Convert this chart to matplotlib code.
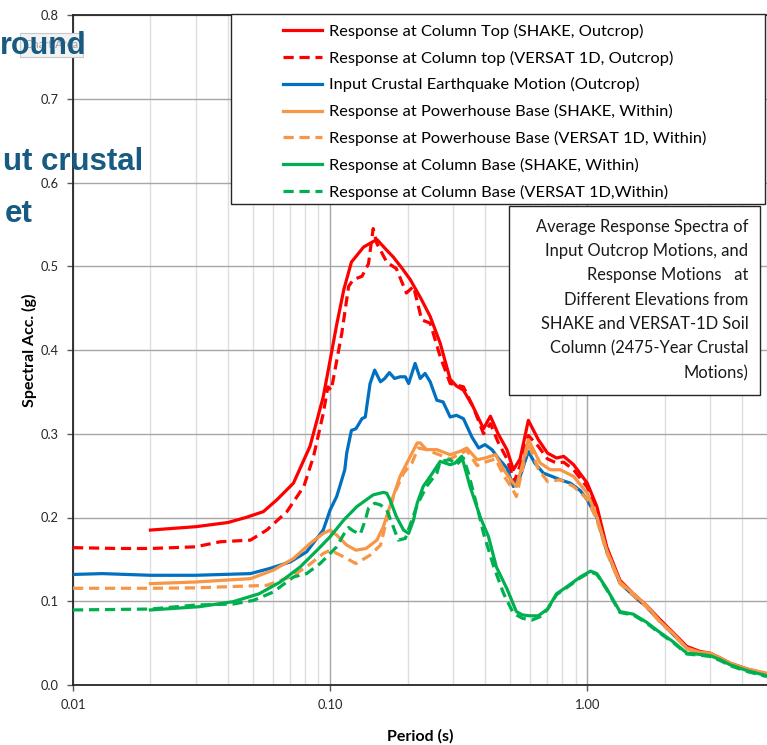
import matplotlib
matplotlib.use("Agg")
import matplotlib.pyplot as plt
from matplotlib.patches import Rectangle
from matplotlib.ticker import FixedLocator, FixedFormatter, LogLocator, NullFormatter

plt.rcParams['font.family'] = ['Lato', 'DejaVu Sans']

# 反应谱数据：周期 (s) 与谱加速度 (g)
T_top_shake = [0.02, 0.03, 0.04, 0.047, 0.055, 0.062, 0.072, 0.0835, 0.094, 0.1, 0.106, 0.113, 0.121,
               0.135, 0.152, 0.165, 0.176, 0.19, 0.205, 0.225, 0.245, 0.268, 0.293, 0.31, 0.33, 0.36,
               0.395, 0.42, 0.45, 0.487, 0.516, 0.548, 0.59, 0.645, 0.70, 0.76, 0.81, 0.885, 1.0, 1.09,
               1.19, 1.34, 1.51, 1.7, 1.92, 2.15, 2.44, 2.75, 3.01, 3.3, 3.6, 4.2, 5.0]
Sa_top_shake = [0.185, 0.189, 0.194, 0.200, 0.207, 0.221, 0.241, 0.285, 0.344, 0.388, 0.43, 0.472, 0.505,
                0.523, 0.532, 0.52, 0.511, 0.498, 0.484, 0.462, 0.44, 0.408, 0.365, 0.357, 0.352, 0.332,
                0.306, 0.321, 0.3, 0.281, 0.257, 0.27, 0.316, 0.293, 0.277, 0.271, 0.273, 0.263, 0.241, 0.213,
                0.165, 0.125, 0.109, 0.095, 0.078, 0.063, 0.046, 0.04, 0.038, 0.032, 0.026, 0.019, 0.013]

T_top_versat = [0.01, 0.015, 0.02, 0.03, 0.0373, 0.049, 0.0567, 0.0679, 0.079, 0.0862, 0.094, 0.098, 0.101,
                0.111, 0.118, 0.123, 0.133, 0.141, 0.147, 0.152, 0.166, 0.181, 0.198, 0.211, 0.227, 0.245,
                0.268, 0.293, 0.33, 0.36, 0.395, 0.42, 0.45, 0.487, 0.52, 0.548, 0.59, 0.645, 0.70, 0.76,
                0.81, 0.885, 1.0, 1.09, 1.19, 1.34, 1.51, 1.7, 1.92, 2.15, 2.44, 2.75, 3.01, 3.3, 3.6, 4.2, 5.0]
Sa_top_versat = [0.164, 0.163, 0.163, 0.165, 0.171, 0.173, 0.185, 0.207, 0.237, 0.273, 0.324, 0.356, 0.352,
                 0.42, 0.476, 0.484, 0.488, 0.503, 0.545, 0.527, 0.505, 0.497, 0.468, 0.476, 0.436, 0.432,
                 0.392, 0.36, 0.356, 0.332, 0.3, 0.312, 0.29, 0.27, 0.243, 0.262, 0.298, 0.285, 0.27, 0.265,
                 0.266, 0.257, 0.236, 0.21, 0.163, 0.123, 0.107, 0.093, 0.077, 0.062, 0.045, 0.039, 0.037,
                 0.031, 0.025, 0.018, 0.012]

T_input = [0.01, 0.013, 0.02, 0.03, 0.049, 0.058, 0.07, 0.081, 0.094, 0.1, 0.106, 0.109, 0.114, 0.116, 0.121,
           0.126, 0.133, 0.137, 0.143, 0.149, 0.157, 0.163, 0.17, 0.178, 0.187, 0.196, 0.202, 0.214, 0.224,
           0.234, 0.245, 0.26, 0.275, 0.293, 0.31, 0.33, 0.356, 0.378, 0.4, 0.426, 0.45, 0.487, 0.516, 0.548,
           0.59, 0.625, 0.675, 0.73, 0.785, 0.86, 0.94, 1.0, 1.09, 1.19, 1.34, 1.51, 1.7, 1.92, 2.15, 2.44,
           2.75, 3.01, 3.3, 3.6, 4.2, 5.0]
Sa_input = [0.132, 0.133, 0.131, 0.131, 0.133, 0.139, 0.147, 0.159, 0.185, 0.209, 0.225, 0.237, 0.257, 0.277,
            0.304, 0.306, 0.318, 0.32, 0.36, 0.376, 0.362, 0.366, 0.373, 0.366, 0.368, 0.368, 0.36, 0.384, 0.366,
            0.372, 0.362, 0.34, 0.338, 0.32, 0.322, 0.318, 0.296, 0.283, 0.287, 0.281, 0.271, 0.259, 0.237, 0.249,
            0.279, 0.265, 0.253, 0.249, 0.245, 0.241, 0.232, 0.221, 0.2, 0.16, 0.122, 0.107, 0.094, 0.076, 0.061,
            0.044, 0.038, 0.036, 0.031, 0.025, 0.018, 0.012]

T_ph_shake = [0.02, 0.03, 0.049, 0.06, 0.072, 0.0836, 0.094, 0.1, 0.106, 0.116, 0.126, 0.138, 0.152, 0.161,
              0.174, 0.187, 0.205, 0.218, 0.224, 0.237, 0.26, 0.293, 0.32, 0.34, 0.373, 0.4, 0.44, 0.473,
              0.51, 0.53, 0.557, 0.59, 0.656, 0.718, 0.785, 0.885, 1.0, 1.09, 1.19, 1.34, 1.51, 1.7, 1.92,
              2.15, 2.44, 2.75, 3.01, 3.3, 3.6, 4.2, 5.0]
Sa_ph_shake = [0.121, 0.123, 0.127, 0.137, 0.151, 0.169, 0.181, 0.185, 0.179, 0.167, 0.161, 0.163, 0.173,
               0.189, 0.221, 0.249, 0.273, 0.289, 0.289, 0.281, 0.281, 0.275, 0.279, 0.283, 0.269, 0.271,
               0.275, 0.257, 0.243, 0.237, 0.261, 0.293, 0.265, 0.257, 0.257, 0.249, 0.229, 0.201, 0.161,
               0.123, 0.109, 0.095, 0.076, 0.062, 0.044, 0.039, 0.038, 0.032, 0.026, 0.019, 0.014]

T_ph_versat = [0.01, 0.02, 0.03, 0.0567, 0.07, 0.081, 0.094, 0.1, 0.113, 0.126, 0.143, 0.157, 0.166, 0.178,
               0.193, 0.208, 0.22, 0.237, 0.26, 0.293, 0.32, 0.34, 0.373, 0.4, 0.44, 0.473, 0.51, 0.53, 0.557,
               0.59, 0.645, 0.7, 0.785, 0.885, 1.0, 1.09, 1.19, 1.34, 1.51, 1.7, 1.92, 2.15, 2.44, 2.75, 3.01,
               3.3, 3.6, 4.2, 5.0]
Sa_ph_versat = [0.1155, 0.1155, 0.116, 0.119, 0.129, 0.141, 0.157, 0.161, 0.153, 0.145, 0.155, 0.167, 0.197,
                0.229, 0.253, 0.265, 0.283, 0.281, 0.276, 0.27, 0.276, 0.28, 0.262, 0.266, 0.27, 0.25, 0.235,
                0.225, 0.255, 0.289, 0.258, 0.243, 0.245, 0.237, 0.222, 0.197, 0.158, 0.121, 0.107, 0.093,
                0.075, 0.061, 0.043, 0.038, 0.037, 0.031, 0.025, 0.018, 0.013]

T_base_shake = [0.02, 0.031, 0.042, 0.053, 0.064, 0.0765, 0.089, 0.1, 0.113, 0.127, 0.147, 0.161, 0.166, 0.171,
                0.181, 0.193, 0.202, 0.211, 0.218, 0.23, 0.245, 0.268, 0.293, 0.306, 0.325, 0.35, 0.384, 0.413,
                0.443, 0.487, 0.53, 0.56, 0.6, 0.645, 0.7, 0.76, 0.83, 0.94, 1.03, 1.09, 1.19, 1.34, 1.51, 1.7,
                1.86, 2.15, 2.44, 2.75, 3.01, 3.3, 3.6, 4.2, 5.0]
Sa_base_shake = [0.0896, 0.0935, 0.0995, 0.109, 0.123, 0.141, 0.161, 0.177, 0.197, 0.213, 0.227, 0.23, 0.229,
                 0.221, 0.201, 0.185, 0.181, 0.197, 0.217, 0.237, 0.249, 0.267, 0.263, 0.265, 0.273, 0.237, 0.2,
                 0.177, 0.141, 0.115, 0.0876, 0.0836, 0.0826, 0.0826, 0.0906, 0.109, 0.117, 0.129, 0.136, 0.133,
                 0.115, 0.0876, 0.0846, 0.075, 0.0657, 0.052, 0.038, 0.0365, 0.035, 0.03, 0.024, 0.017, 0.011]

T_base_versat = [0.01, 0.02, 0.03, 0.042, 0.0503, 0.0601, 0.072, 0.081, 0.0914, 0.1, 0.106, 0.113, 0.118, 0.123,
                 0.131, 0.137, 0.141, 0.149, 0.157, 0.166, 0.176, 0.184, 0.196, 0.208, 0.218, 0.237, 0.26, 0.268,
                 0.293, 0.31, 0.33, 0.345, 0.373, 0.395, 0.433, 0.473, 0.516, 0.56, 0.61, 0.656, 0.7, 0.76, 0.83,
                 0.94, 1.03, 1.09, 1.19, 1.34, 1.51, 1.7, 1.86, 2.15, 2.44, 2.75, 3.01, 3.3, 3.6, 4.2, 5.0]
Sa_base_versat = [0.0896, 0.0907, 0.0955, 0.0967, 0.101, 0.111, 0.129, 0.133, 0.145, 0.157, 0.165, 0.18, 0.188,
                  0.184, 0.18, 0.197, 0.211, 0.217, 0.215, 0.209, 0.189, 0.173, 0.175, 0.197, 0.215, 0.237, 0.253,
                  0.267, 0.269, 0.263, 0.271, 0.253, 0.213, 0.181, 0.141, 0.109, 0.0856, 0.0796, 0.0776, 0.0816,
                  0.09, 0.108, 0.116, 0.128, 0.135, 0.132, 0.114, 0.0866, 0.0836, 0.074, 0.0647, 0.051, 0.037,
                  0.0355, 0.034, 0.029, 0.023, 0.016, 0.010]

labels = ['Response at Column Top (SHAKE, Outcrop)',
          'Response at Column top (VERSAT 1D, Outcrop)',
          'Input Crustal Earthquake Motion (Outcrop)',
          'Response at Powerhouse Base (SHAKE, Within)',
          'Response at Powerhouse Base (VERSAT 1D, Within)',
          'Response at Column Base (SHAKE, Within)',
          'Response at Column Base (VERSAT 1D,Within)']

RED, BLUE, ORANGE, GREEN = '#ff0000', '#0070c0', '#f79646', '#00b050'
DASH = (0, (3.2, 1.8))

fig = plt.figure(figsize=(7.67, 7.45), dpi=100)
ax = fig.add_axes([73 / 767, 60 / 745, 694 / 767, 670 / 745])

series = [
    (T_top_shake, Sa_top_shake, RED, '-'),
    (T_top_versat, Sa_top_versat, RED, DASH),
    (T_input, Sa_input, BLUE, '-'),
    (T_ph_shake, Sa_ph_shake, ORANGE, '-'),
    (T_ph_versat, Sa_ph_versat, ORANGE, DASH),
    (T_base_shake, Sa_base_shake, GREEN, '-'),
    (T_base_versat, Sa_base_versat, GREEN, DASH),
]
handles = []
for (t, sa, c, ls), lab in zip(series, labels):
    h, = ax.plot(t, sa, color=c, linestyle=ls, linewidth=2.3, label=lab, zorder=3)
    handles.append(h)

ax.set_xscale('log')
ax.set_xlim(0.01, 5.0)
ax.set_ylim(0, 0.8)

ax.xaxis.set_major_locator(FixedLocator([0.01, 0.1, 1.0]))
ax.xaxis.set_major_formatter(FixedFormatter(['0.01', '0.10', '1.00']))
ax.xaxis.set_minor_locator(LogLocator(base=10, subs=range(2, 10)))
ax.xaxis.set_minor_formatter(NullFormatter())
ax.set_yticks([i / 10 for i in range(9)])
ax.set_yticklabels(['%.1f' % (i / 10) for i in range(9)])

ax.grid(which='major', color='#a6a6a6', linewidth=1.0, zorder=0)
ax.grid(which='minor', axis='x', color='#dedede', linewidth=1.0, zorder=0)
ax.set_axisbelow(True)
ax.tick_params(which='major', direction='out', length=4, width=1, color='#595959',
               labelsize=9.3, labelcolor='#262626', pad=6)
ax.tick_params(which='minor', length=0)

for side in ['left', 'bottom', 'top']:
    ax.spines[side].set_color('#262626')
    ax.spines[side].set_linewidth(1.3)
ax.spines['right'].set_visible(False)

ax.set_xlabel('Period (s)', fontsize=11.5, fontweight='bold', labelpad=13)
ax.set_ylabel('Spectral Acc. (g)', fontsize=11.5, fontweight='bold', labelpad=3)

# 图例：单独画外框，图例本身不带框
ax.add_patch(Rectangle((0.228, 0.718), 0.769, 0.283, transform=ax.transAxes, fill=True,
                       facecolor='white', edgecolor='#262626', linewidth=1.0, zorder=5, clip_on=False))
leg = ax.legend(handles=handles, loc='upper left', bbox_to_anchor=(0.3026, 0.987), frameon=False,
                fontsize=11.8, handlelength=2.4, handletextpad=0.4, labelspacing=0.72,
                borderpad=0, borderaxespad=0)
leg.set_zorder(6)

# 说明文字框
ax.add_patch(Rectangle((0.628, 0.433), 0.362, 0.282, transform=ax.transAxes, facecolor='white',
                       edgecolor='#262626', linewidth=1.0, zorder=5))
ax.text(0.973, 0.696, 'Average Response Spectra of\nInput Outcrop Motions, and\nResponse Motions   at\n'
        'Different Elevations from\nSHAKE and VERSAT-1D Soil\nColumn (2475-Year Crustal\nMotions)',
        transform=ax.transAxes, ha='right', va='top', multialignment='right', fontsize=11.9,
        linespacing=1.64, color='#1a1a1a', zorder=6)

# 幻灯片上残留的文字和提示框
fig.patches.append(Rectangle((20 / 767, 1 - 57 / 745), 63 / 767, 24 / 745, transform=fig.transFigure,
                             facecolor='#f2f2f2', edgecolor='#c8c8c8', linewidth=0.8, zorder=8))
fig.text(52 / 767, 1 - 45 / 745, 'Chart Area', fontsize=8, color='#a0a0a0', ha='center', va='center', zorder=9)
slide_blue = '#175a82'
fig.text(86 / 767, 1 - 54 / 745, 'round', fontsize=22, fontweight='bold', color=slide_blue,
         family='Liberation Sans', ha='right', va='baseline', zorder=10)
fig.text(143 / 767, 1 - 170 / 745, 'ut crustal', fontsize=22.5, fontweight='bold', color=slide_blue,
         family='Liberation Sans', ha='right', va='baseline', zorder=10)
fig.text(33 / 767, 1 - 222 / 745, 'et', fontsize=22.5, fontweight='bold', color=slide_blue,
         family='Liberation Sans', ha='right', va='baseline', zorder=10)

fig.savefig('out.png', dpi=100)
